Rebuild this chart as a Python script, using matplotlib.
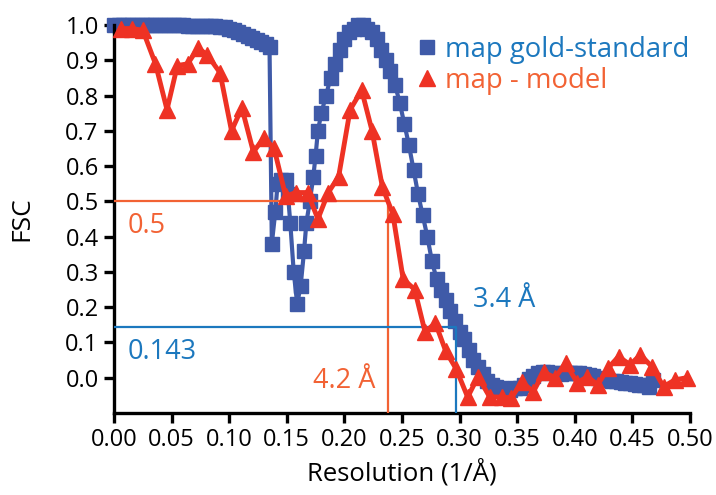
import numpy as np
import matplotlib
matplotlib.use("Agg")
import matplotlib.pyplot as plt
from matplotlib.lines import Line2D

plt.rcParams['font.family'] = ['Open Sans', 'DejaVu Sans']

# gold-standard FSC (blue squares)
gold_x = [0.000, 0.004, 0.008, 0.012, 0.016, 0.020, 0.024, 0.028, 0.032, 0.036,
          0.040, 0.044, 0.048, 0.052, 0.056, 0.060, 0.064, 0.068, 0.072, 0.076,
          0.080, 0.084, 0.088, 0.092, 0.096, 0.100, 0.104, 0.108, 0.112, 0.116,
          0.120, 0.124, 0.128, 0.132, 0.135, 0.137, 0.140, 0.142, 0.145, 0.149,
          0.151, 0.153, 0.156, 0.159, 0.162, 0.165, 0.167, 0.170, 0.173, 0.175,
          0.177, 0.180, 0.184, 0.188, 0.192, 0.196, 0.200, 0.204, 0.208, 0.212,
          0.216, 0.220, 0.224, 0.228, 0.232, 0.236, 0.240, 0.244, 0.248, 0.252,
          0.256, 0.260, 0.264, 0.268, 0.272, 0.276, 0.280, 0.284, 0.288, 0.292,
          0.296, 0.300, 0.304, 0.308, 0.312, 0.316, 0.320, 0.324, 0.328, 0.332,
          0.336, 0.340, 0.344, 0.348, 0.352, 0.356, 0.360, 0.364, 0.368, 0.372,
          0.376, 0.380, 0.384, 0.388, 0.392, 0.396, 0.400, 0.404, 0.408, 0.412,
          0.416, 0.420, 0.424, 0.428, 0.432, 0.436, 0.440, 0.444, 0.448, 0.452,
          0.456, 0.460, 0.464, 0.468]
gold_y = [1.000, 1.000, 1.000, 1.000, 1.000, 1.000, 1.000, 1.000, 1.000, 1.000,
          1.000, 1.000, 1.000, 0.999, 0.999, 0.999, 0.998, 0.998, 0.998, 0.997,
          0.997, 0.996, 0.996, 0.995, 0.993, 0.990, 0.986, 0.980, 0.975, 0.970,
          0.964, 0.958, 0.952, 0.945, 0.938, 0.380, 0.470, 0.550, 0.560, 0.560,
          0.520, 0.440, 0.300, 0.210, 0.260, 0.360, 0.440, 0.500, 0.570, 0.630,
          0.700, 0.750, 0.800, 0.850, 0.890, 0.930, 0.960, 0.980, 0.990, 1.000,
          1.000, 0.990, 0.980, 0.960, 0.930, 0.900, 0.870, 0.830, 0.780, 0.720,
          0.660, 0.590, 0.520, 0.460, 0.400, 0.330, 0.280, 0.250, 0.220, 0.190,
          0.160, 0.130, 0.110, 0.080, 0.050, 0.030, 0.010, -0.010, -0.020, -0.025,
          -0.030, -0.035, -0.035, -0.030, -0.030, -0.020, -0.005, 0.005, 0.012, 0.015,
          0.015, 0.012, 0.012, 0.010, 0.012, 0.014, 0.014, 0.012, 0.010, 0.008,
          0.004, 0.000, -0.004, -0.006, -0.008, -0.010, -0.012, -0.014, -0.016, -0.018,
          -0.020, -0.022, -0.025, -0.006]

# map vs model FSC (red triangles)
model_x = [0.006, 0.016, 0.025, 0.036, 0.046, 0.055, 0.064, 0.073, 0.081, 0.092,
           0.102, 0.111, 0.121, 0.130, 0.139, 0.149, 0.158, 0.168, 0.177, 0.186,
           0.195, 0.205, 0.215, 0.224, 0.233, 0.242, 0.251, 0.261, 0.270, 0.279,
           0.288, 0.297, 0.307, 0.316, 0.326, 0.337, 0.345, 0.354, 0.364, 0.373,
           0.383, 0.392, 0.402, 0.411, 0.420, 0.429, 0.438, 0.448, 0.457, 0.467,
           0.477, 0.487, 0.497]
model_y = [0.990, 0.990, 0.985, 0.890, 0.760, 0.885, 0.890, 0.935, 0.915, 0.865,
           0.700, 0.765, 0.640, 0.680, 0.650, 0.515, 0.525, 0.525, 0.450, 0.525,
           0.570, 0.760, 0.815, 0.700, 0.540, 0.465, 0.280, 0.250, 0.130, 0.155,
           0.075, 0.025, -0.055, 0.003, -0.054, -0.055, -0.057, -0.012, -0.040, 0.016,
           0.000, 0.042, -0.014, 0.003, -0.020, 0.028, 0.060, 0.037, 0.065, 0.031,
           -0.025, -0.006, 0.000]

# cut-off markers
fsc_half = 0.5
fsc_gold = 0.143
res_half = 0.238   # 1/4.2 A
res_gold = 0.297   # 3.4 A

blue = '#3F5AA8'
red = '#EE3224'
orange = '#F26234'
lblue = '#1C78BE'

fig = plt.figure(figsize=(7.16, 4.95), dpi=100)
ax = fig.add_axes([114 / 716, 82 / 495, 576 / 716, 388 / 495])

ax.plot(gold_x, gold_y, color=blue, marker='s', markersize=9.5, lw=3,
        clip_on=False, zorder=2)
ax.plot([0, res_half, res_half], [fsc_half, fsc_half, -0.1], color=orange,
        lw=1.6, zorder=3)
ax.plot([0, res_gold, res_gold], [fsc_gold, fsc_gold, -0.1], color=lblue,
        lw=1.6, zorder=3)
ax.plot(model_x, model_y, color=red, marker='^', markersize=11, lw=3.5,
        clip_on=False, zorder=4)

ax.text(0.012, 0.43, '0.5', color=orange, fontsize=19.5, va='center')
ax.text(0.012, 0.073, '0.143', color=lblue, fontsize=19.5, va='center')
ax.text(0.227, -0.01, '4.2 Å', color=orange, fontsize=19.5, va='center', ha='right')
ax.text(0.312, 0.22, '3.4 Å', color=lblue, fontsize=19.5, va='center')

handles = [Line2D([], [], color=blue, marker='s', ls='none', markersize=10),
           Line2D([], [], color=red, marker='^', ls='none', markersize=11)]
ax.legend(handles, ['map gold-standard', 'map - model'], loc='upper left',
          bbox_to_anchor=(0.5, 1.0), frameon=False, fontsize=19.8,
          handletextpad=0.15, handlelength=1.0, labelspacing=0.1,
          labelcolor=[lblue, orange], borderaxespad=0)

ax.set_xlim(0, 0.5)
ax.set_ylim(-0.1, 1.0)
ax.set_xticks(np.arange(0, 0.501, 0.05))
ax.set_yticks(np.arange(0, 1.001, 0.1))
ax.xaxis.set_major_formatter(plt.FormatStrFormatter('%.2f'))
ax.yaxis.set_major_formatter(plt.FormatStrFormatter('%.1f'))
for s in ['top', 'right']:
    ax.spines[s].set_visible(False)
for s in ['left', 'bottom']:
    ax.spines[s].set_linewidth(2.4)
ax.tick_params(width=2.4, length=7, labelsize=17, pad=4)
ax.set_xlabel('Resolution (1/Å)', fontsize=18.5, labelpad=5)
ax.set_ylabel('FSC', fontsize=19, labelpad=22)

fig.savefig('out.png', dpi=100)
